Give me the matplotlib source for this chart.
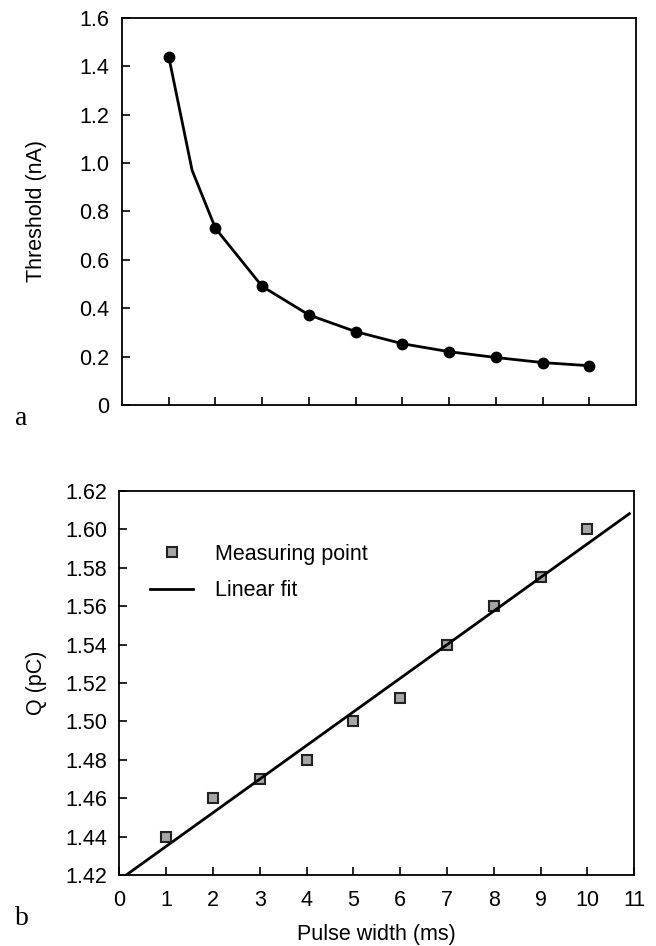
import numpy as np
import matplotlib
matplotlib.use('Agg')
import matplotlib.pyplot as plt

# panel a: threshold vs pulse width
pulse = [1, 2, 3, 4, 5, 6, 7, 8, 9, 10]
threshold = [1.44, 0.73, 0.49, 0.372, 0.303, 0.253, 0.220, 0.196, 0.175, 0.162]
# curve as drawn in the original (one extra vertex between 1 and 2 ms)
curve_x = [1, 1.5, 2, 3, 4, 5, 6, 7, 8, 9, 10]
curve_y = [1.44, 0.97, 0.73, 0.49, 0.372, 0.303, 0.253, 0.220, 0.196, 0.175, 0.162]

# panel b: charge vs pulse width
charge = [1.440, 1.460, 1.470, 1.480, 1.500, 1.512, 1.540, 1.560, 1.575, 1.600]

plt.rcParams['font.family'] = ['Liberation Sans', 'DejaVu Sans']
plt.rcParams['font.size'] = 15.5

fig = plt.figure(figsize=(6.56, 9.46), dpi=100)

# ---- a ----
ax1 = fig.add_axes([0.186, 0.572, 0.7835, 0.409])
ax1.plot(curve_x, curve_y, color='black', lw=2.0)
ax1.plot(pulse, threshold, 'o', color='black', ms=7.5)
ax1.set_xlim(0, 11)
ax1.set_ylim(0, 1.6)
ax1.set_xticks(pulse)
ax1.set_xticklabels([])
ax1.set_yticks(np.arange(0, 1.61, 0.2))
ax1.set_yticklabels(['0'] + ['%.1f' % v for v in np.arange(0.2, 1.61, 0.2)])
ax1.set_ylabel('Threshold (nA)')
ax1.yaxis.set_label_coords(-0.146, 0.5)
ax1.tick_params(direction='in', length=6, width=1.2)
ax1.tick_params(axis='y', pad=9)
for s in ax1.spines.values():
    s.set_linewidth(1.3)

# ---- b ----
ax2 = fig.add_axes([0.182, 0.075, 0.7846, 0.406])
k, b = np.polyfit(pulse, charge, 1)
fit_x = np.array([0, 10.9])
ax2.plot(pulse, charge, 's', ms=7, mfc='#a6a6a6', mec='#222222', mew=1.5,
         label='Measuring point')
ax2.plot(fit_x, k * fit_x + b, color='black', lw=2.0, label='Linear fit')
ax2.set_xlim(0, 11)
ax2.set_ylim(1.42, 1.62)
ax2.set_xticks(range(0, 12))
ax2.set_yticks(np.arange(1.42, 1.621, 0.02))
ax2.set_yticklabels(['%.2f' % v for v in np.arange(1.42, 1.621, 0.02)])
ax2.set_xlabel('Pulse width (ms)', labelpad=9)
ax2.set_ylabel('Q (pC)')
ax2.yaxis.set_label_coords(-0.14, 0.5)
ax2.tick_params(direction='in', length=6, width=1.2)
ax2.tick_params(axis='x', pad=11)
ax2.tick_params(axis='y', pad=9)
for s in ax2.spines.values():
    s.set_linewidth(1.3)
ax2.legend(loc='upper left', bbox_to_anchor=(0.06, 0.862), frameon=False,
           borderpad=0, borderaxespad=0, handlelength=2.0,
           handletextpad=1.0, labelspacing=0.72)

# panel letters
fig.text(0.033, 1 - 418 / 946, 'a', family='Liberation Serif', fontsize=20,
         va='center', ha='center')
fig.text(0.033, 1 - 918 / 946, 'b', family='Liberation Serif', fontsize=20,
         va='center', ha='center')

fig.savefig('out.png', dpi=100)
